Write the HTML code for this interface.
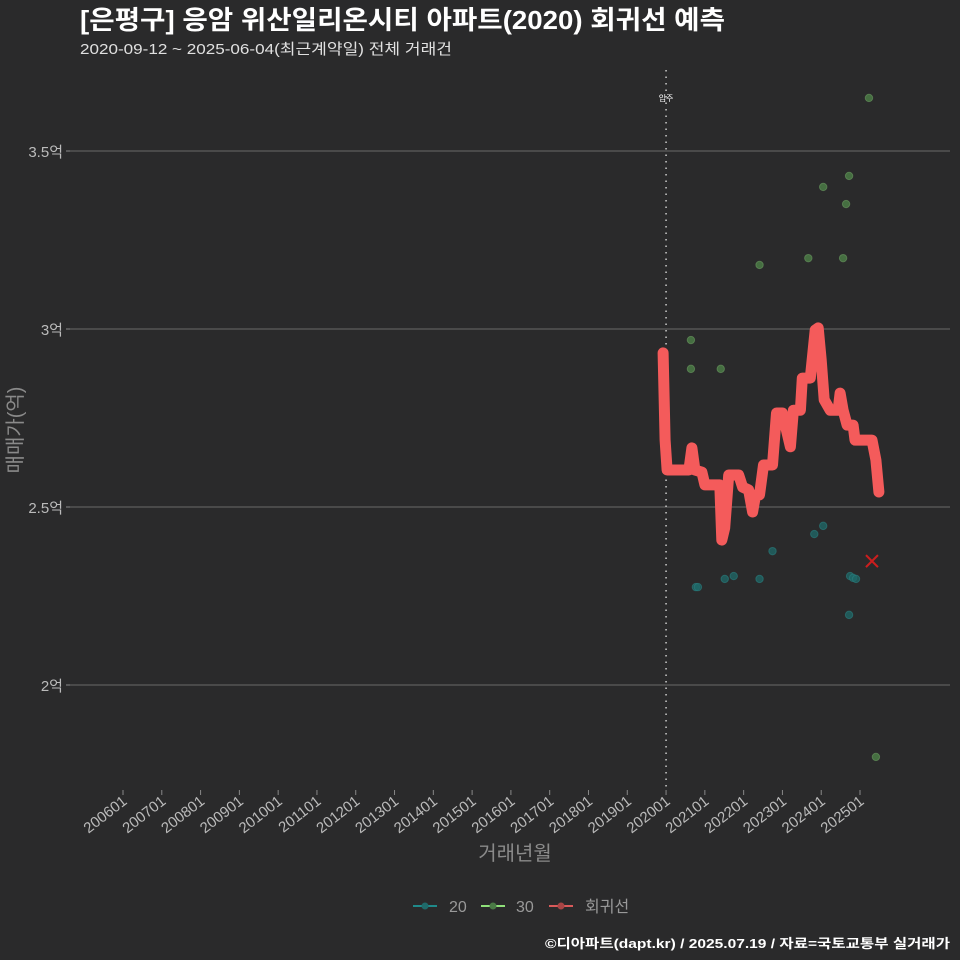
<!DOCTYPE html>
<html><head><meta charset="utf-8">
<style>
html,body{margin:0;padding:0;background:#2a2a2b;}
svg{display:block;font-family:"Liberation Sans","Noto Sans CJK KR",sans-serif;}
</style></head>
<body>
<svg id="chart" width="960" height="960" viewBox="0 0 960 960">
<rect width="960" height="960" fill="#2a2a2b"/>
<text x="80" y="29" font-size="26" font-weight="bold" fill="#ffffff" textLength="645" lengthAdjust="spacingAndGlyphs">[은평구] 응암 위산일리온시티 아파트(2020) 회귀선 예측</text>
<text x="80" y="54" font-size="15" fill="#e0e0e0" textLength="372" lengthAdjust="spacingAndGlyphs">2020-09-12 ~ 2025-06-04(최근계약일) 전체 거래건</text>
<g id="grid"></g>
<g id="marks"></g>
<text x="0" y="0" transform="translate(22,430) rotate(-90)" text-anchor="middle" font-size="20" fill="#8a8a8a">매매가(억)</text>
<text x="515" y="860" text-anchor="middle" font-size="20" fill="#8a8a8a">거래년월</text>
<g>
<g><line x1="413" x2="437" y1="906" y2="906" stroke="#1f8a8a" stroke-width="2"/><circle cx="425" cy="906" r="3.5" fill="#1f6a6a"/><text x="449" y="912" font-size="16" fill="#999">20</text></g>
<g><line x1="481" x2="505" y1="906" y2="906" stroke="#8fe07a" stroke-width="2"/><circle cx="493" cy="906" r="3.5" fill="#4a7a45"/><text x="516" y="912" font-size="16" fill="#999">30</text></g>
<g><line x1="549" x2="573" y1="906" y2="906" stroke="#d95a5a" stroke-width="2"/><circle cx="561" cy="906" r="3.5" fill="#a84545"/><text x="585" y="912" font-size="16" fill="#999">회귀선</text></g>
</g>
<text x="545" y="948" font-size="13" font-weight="bold" fill="#ffffff" textLength="405" lengthAdjust="spacingAndGlyphs">©디아파트(dapt.kr) / 2025.07.19 / 자료=국토교통부 실거래가</text>
</svg>
<script>
const yTicks = [2, 2.5, 3, 3.5];
const yTickLabels = ["2억", "2.5억", "3억", "3.5억"];
const xTickYears = [2006,2007,2008,2009,2010,2011,2012,2013,2014,2015,2016,2017,2018,2019,2020,2021,2022,2023,2024,2025];
const xTickLabels = ["200601","200701","200801","200901","201001","201101","201201","201301","201401","201501","201601","201701","201801","201901","202001","202101","202201","202301","202401","202501"];
const regDates = [2019.923,2019.974,2020.026,2020.59,2020.667,2020.744,2020.923,2021.0,2021.385,2021.436,2021.513,2021.615,2021.872,2021.974,2022.128,2022.231,2022.308,2022.41,2022.513,2022.744,2022.846,2023.0,2023.205,2023.282,2023.462,2023.513,2023.718,2023.846,2023.923,2024.0,2024.077,2024.231,2024.436,2024.487,2024.564,2024.667,2024.821,2024.872,2025.308,2025.41,2025.487];
const regValues = [2.933,2.688,2.604,2.604,2.666,2.604,2.598,2.562,2.562,2.407,2.441,2.590,2.590,2.556,2.548,2.486,2.534,2.534,2.618,2.618,2.764,2.764,2.669,2.772,2.772,2.862,2.862,2.997,3.003,2.913,2.801,2.772,2.772,2.820,2.772,2.730,2.730,2.688,2.688,2.632,2.542];
const s30Dates = [2020.641,2020.641,2021.41,2022.41,2023.667,2024.051,2024.641,2024.718,2024.564,2025.231,2025.41];
const s30Values = [2.969,2.888,2.888,3.180,3.199,3.399,3.351,3.430,3.199,3.649,1.798];
const s20Dates = [2020.769,2020.821,2021.513,2021.744,2022.41,2022.744,2023.821,2024.051,2024.718,2024.744,2024.821,2024.897];
const s20Values = [2.275,2.275,2.298,2.306,2.298,2.376,2.424,2.447,2.197,2.306,2.301,2.298];
const predDate = [2025.308];
const predValue = [2.348];
const moveInYear = 2020.0;

const NS = "http://www.w3.org/2000/svg";
function xs(yr){ return 123 + (yr - 2006) * 38.79; }
function ys(v){ return 507 - (v - 2.5) * 356; }
function mk(tag, attrs, parent){ const e = document.createElementNS(NS, tag); for (const k in attrs) e.setAttribute(k, attrs[k]); parent.appendChild(e); return e; }
const grid = document.getElementById('grid');
const marks = document.getElementById('marks');

yTicks.forEach((t, i) => {
  const l = mk('line', {x1:70, x2:950, y1:ys(t), y2:ys(t), stroke:'#5e5e5e', 'stroke-width':1.3}, grid);
  
  
  const tk = mk('line', {x1:66, x2:70, y1:ys(t), y2:ys(t), stroke:'#888', 'stroke-width':1}, grid);
  
  
  const tx = mk('text', {x:63, y:ys(t)+6, 'text-anchor':'end', 'font-size':15, fill:'#bbbbbb'}, grid);
  tx.textContent = yTickLabels[i];
  
  
});
xTickYears.forEach((yr, i) => {
  const x = xs(yr);
  const tk = mk('line', {x1:x, x2:x, y1:790, y2:795, stroke:'#888', 'stroke-width':1}, grid);
  
  
  const tx = mk('text', {x:0, y:0, 'text-anchor':'end', 'font-size':15, fill:'#bbbbbb', transform:`translate(${x+5},${803}) rotate(-38)`}, grid);
  tx.textContent = xTickLabels[i];
  
  
});
const mv = mk('line', {x1:xs(moveInYear), x2:xs(moveInYear), y1:70, y2:790, stroke:'#cccccc', 'stroke-width':1.5, 'stroke-dasharray':'1.5 5'}, grid);


const mvt = mk('text', {x:xs(moveInYear), y:101, 'text-anchor':'middle', 'font-size':8, fill:'#ffffff'}, grid);
mvt.textContent = '입주';



s20Dates.forEach((d, i) => {
  const c = mk('circle', {cx:xs(d), cy:ys(s20Values[i]), r:3.7, fill:'#1f6a6a', 'fill-opacity':0.75, stroke:'#2a8080', 'stroke-opacity':0.6}, marks);
  
  
});
s30Dates.forEach((d, i) => {
  const c = mk('circle', {cx:xs(d), cy:ys(s30Values[i]), r:3.7, fill:'#4a7a45', 'fill-opacity':0.85, stroke:'#6a9a60', 'stroke-opacity':0.6}, marks);
  
  
});
const pts = regDates.map((d, i) => xs(d).toFixed(1) + ',' + ys(regValues[i]).toFixed(1)).join(' ');
const pl = mk('polyline', {points:pts, fill:'none', stroke:'#f45b5b', 'stroke-width':11, 'stroke-linejoin':'round', 'stroke-linecap':'round'}, marks);


predDate.forEach((d, i) => {
  const x = xs(d), y = ys(predValue[i]);
  const g = mk('path', {d:`M${x-6},${y-6}L${x+6},${y+6}M${x-6},${y+6}L${x+6},${y-6}`, stroke:'#cc1e1e', 'stroke-width':2}, marks);
  
  
});
</script>
</body></html>
